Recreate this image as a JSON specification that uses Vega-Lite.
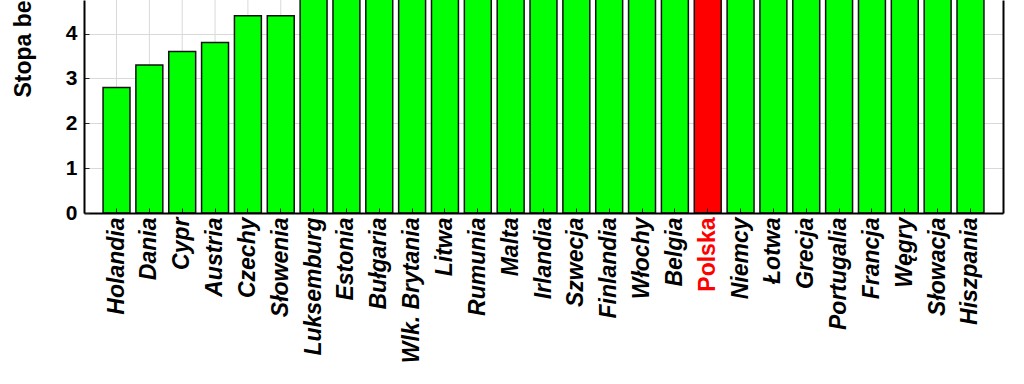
{
  "$schema": "https://vega.github.io/schema/vega-lite/v6.json",
  "width": 919,
  "height": 213,
  "autosize": {"type": "none"},
  "padding": {"left": 84, "top": 0, "right": 21, "bottom": 171},
  "background": "white",
  "config": {"view": {"stroke": null}, "font": "Liberation Sans"},
  "data": {"values": [
    {"kraj": "Holandia", "stopa": 2.8},
    {"kraj": "Dania", "stopa": 3.3},
    {"kraj": "Cypr", "stopa": 3.6},
    {"kraj": "Austria", "stopa": 3.8},
    {"kraj": "Czechy", "stopa": 4.4},
    {"kraj": "Słowenia", "stopa": 4.4},
    {"kraj": "Luksemburg", "stopa": 4.9},
    {"kraj": "Estonia", "stopa": 5.5},
    {"kraj": "Bułgaria", "stopa": 5.6},
    {"kraj": "Wlk. Brytania", "stopa": 5.6},
    {"kraj": "Litwa", "stopa": 5.8},
    {"kraj": "Rumunia", "stopa": 5.8},
    {"kraj": "Malta", "stopa": 5.9},
    {"kraj": "Irlandia", "stopa": 6.0},
    {"kraj": "Szwecja", "stopa": 6.2},
    {"kraj": "Finlandia", "stopa": 6.4},
    {"kraj": "Włochy", "stopa": 6.7},
    {"kraj": "Belgia", "stopa": 7.0},
    {"kraj": "Polska", "stopa": 7.1},
    {"kraj": "Niemcy", "stopa": 7.3},
    {"kraj": "Łotwa", "stopa": 7.5},
    {"kraj": "Grecja", "stopa": 7.7},
    {"kraj": "Portugalia", "stopa": 7.7},
    {"kraj": "Francja", "stopa": 7.8},
    {"kraj": "Węgry", "stopa": 7.8},
    {"kraj": "Słowacja", "stopa": 9.5},
    {"kraj": "Hiszpania", "stopa": 11.3}
  ]},
  "encoding": {
    "x": {
      "field": "kraj", "type": "nominal", "sort": null,
      "scale": {"paddingInner": 0.18, "paddingOuter": 0.58},
      "axis": {
        "title": null, "labelAngle": -90, "labelFontSize": 23, "labelFontWeight": "bold",
        "labelFontStyle": {"condition": {"test": "datum.value == 'Polska'", "value": "normal"}, "value": "italic"},
        "labelColor": {"condition": {"test": "datum.value == 'Polska'", "value": "#ff0000"}, "value": "#000000"},
        "labelPadding": 9, "tickSize": -5, "tickColor": "#222222", "tickWidth": 1,
        "domainColor": "#000000", "domainWidth": 2, "grid": false, "zindex": 1
      }
    }
  },
  "layer": [
    {
      "mark": {"type": "rule", "color": "#d9d9d9", "strokeWidth": 1},
      "encoding": {}
    },
    {
      "mark": {"type": "bar", "opacity": 0},
      "encoding": {
        "y": {
          "field": "stopa", "type": "quantitative",
          "scale": {"domain": [0, 4.75], "nice": false},
          "axis": {"orient": "right", "labels": false, "ticks": false, "title": null,
                   "grid": true, "gridColor": "#d9d9d9", "gridWidth": 1,
                   "values": [0, 1, 2, 3, 4],
                   "domainColor": "#000000", "domainWidth": 2, "zindex": 0}
        }
      }
    },
    {
      "mark": {"type": "bar", "clip": true, "stroke": "#111111", "strokeWidth": 1.5},
      "encoding": {
        "y": {
          "field": "stopa", "type": "quantitative",
          "scale": {"domain": [0, 4.75], "nice": false},
          "axis": {
            "orient": "left", "title": "Stopa bezrobocia (%)",
            "titleFontSize": 23, "titleFontWeight": "bold", "titleColor": "#000000",
            "titleX": -61, "titleY": 97, "titleAlign": "left", "titleBaseline": "middle", "titleAngle": -90,
            "values": [0, 1, 2, 3, 4], "labelFontSize": 21, "labelFontWeight": "bold", "labelColor": "#000000",
            "labelPadding": 12, "tickSize": -5, "tickColor": "#222222", "tickWidth": 1,
            "grid": false, "domainColor": "#000000", "domainWidth": 2, "zindex": 1
          }
        },
        "color": {
          "condition": {"test": "datum.kraj == 'Polska'", "value": "#ff0000"},
          "value": "#00ff00"
        }
      }
    }
  ],
  "resolve": {"axis": {"y": "independent"}}
}
